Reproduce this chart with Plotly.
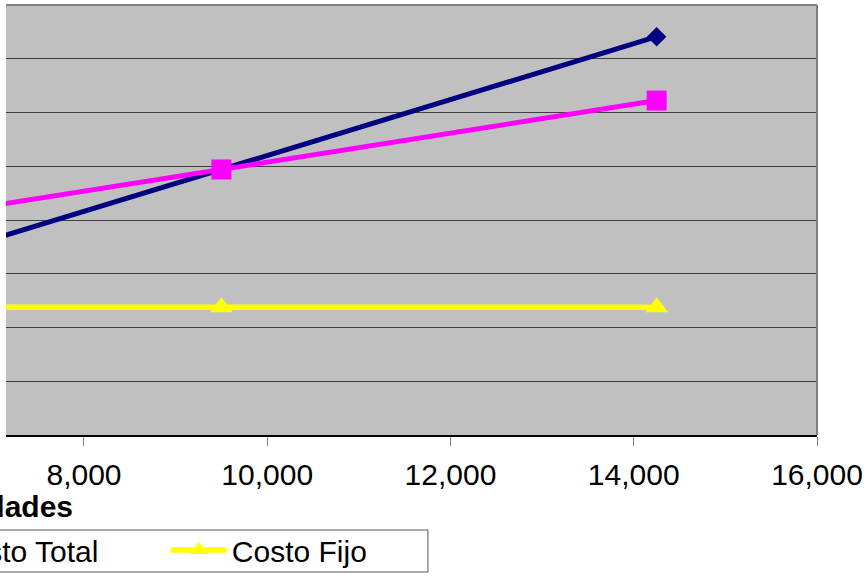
import plotly.graph_objects as go

unidades = [4750, 9500, 14250]
ingreso_total = [49400, 98800, 148200]
costo_total = [73150, 98800, 124450]
costo_fijo = [47500, 47500, 47500]
x_ticks = [6000, 8000, 10000, 12000, 14000, 16000]
x_tick_labels = ["6,000", "8,000", "10,000", "12,000", "14,000", "16,000"]

fig = go.Figure()
fig.add_trace(go.Scatter(x=unidades, y=ingreso_total, name="Ingreso Total", mode="lines+markers",
                         showlegend=False,
                         line=dict(color="#000080", width=5),
                         marker=dict(symbol="diamond", size=15, color="#000080")))
fig.add_trace(go.Scatter(x=unidades, y=costo_total, name="Costo Total", mode="lines+markers",
                         line=dict(color="#FF00FF", width=5),
                         marker=dict(symbol="square", size=20, color="#FF00FF")))
fig.add_trace(go.Scatter(x=unidades, y=costo_fijo, name="Costo Fijo", mode="lines+markers",
                         line=dict(color="#FFFF00", width=5.5),
                         marker=dict(symbol="triangle-up", size=20, color="#FFFF00")))

fig.update_layout(
    width=867, height=576,
    margin=dict(l=6, r=50, t=5, b=141, autoexpand=False),
    paper_bgcolor="white", plot_bgcolor="#C0C0C0",
    font=dict(family="Liberation Sans, Arial", size=30, color="black"),
    xaxis=dict(range=[7149, 16000], tickvals=x_ticks, ticktext=x_tick_labels,
               showgrid=False, zeroline=False, showline=True, linecolor="black", linewidth=2,
               ticks="outside", ticklen=9, tickcolor="#808080", tickwidth=1,
               ticklabelstandoff=3, tickfont=dict(size=30)),
    yaxis=dict(range=[0, 160000], dtick=20000, showticklabels=False, showgrid=True,
               gridcolor="#404040", gridwidth=1, zeroline=False, showline=False, ticks=""),
    showlegend=True,
    legend=dict(orientation="h", x=-0.1519, xanchor="left", y=-0.207, yanchor="top",
                bgcolor="rgba(0,0,0,0)", borderwidth=0,
                font=dict(size=30), itemwidth=56, entrywidth=212, tracegroupgap=0),
    annotations=[dict(text="<b>Unidades</b>", xref="paper", yref="paper",
                      x=0.085, y=-0.1674, xanchor="right", yanchor="middle",
                      showarrow=False, font=dict(size=30))],
    shapes=[
        dict(type="line", xref="paper", yref="paper", x0=0, x1=1, y0=1, y1=1,
             line=dict(color="#808080", width=2)),
        dict(type="line", xref="paper", yref="paper", x0=1, x1=1, y0=0, y1=1,
             line=dict(color="#808080", width=2)),
        dict(type="rect", xref="paper", yref="paper", x0=-0.3, x1=0.5203,
             y0=-0.3186, y1=-0.2209, line=dict(color="#555555", width=1)),
    ],
)

fig.write_html("out.html", config={"displayModeBar": False},
               post_script="document.body.style.margin='0';document.body.style.padding='0';")
